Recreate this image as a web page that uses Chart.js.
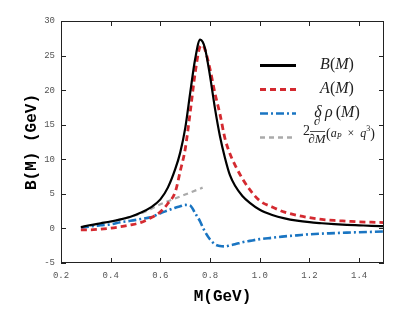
<!DOCTYPE html>
<html>
<head>
<meta charset="utf-8">
<script src="https://cdn.jsdelivr.net/npm/chart.js@4"></script>
<style>
  body { margin: 0; background: #fff; }
  #wrap { width: 412px; height: 309px; }
</style>
</head>
<body>
<div id="wrap"><canvas id="chart" width="412" height="309"></canvas></div>
<script>
// mass grid (GeV) shared by B, A and delta-rho curves
const mass = [0.28, 0.32, 0.36, 0.40, 0.44, 0.48, 0.52, 0.56, 0.60, 0.63, 0.66, 0.68, 0.70, 0.72, 0.74, 0.76, 0.77, 0.78, 0.80, 0.82, 0.84, 0.86, 0.88, 0.90, 0.93, 0.96, 1.00, 1.05, 1.10, 1.15, 1.20, 1.25, 1.30, 1.35, 1.40, 1.45, 1.50];
const bValues = [0.2, 0.5, 0.75, 1.0, 1.3, 1.7, 2.25, 3.0, 4.2, 5.9, 8.6, 11.0, 14.5, 19.6, 24.5, 27.3, 27.0, 26.0, 22.0, 17.3, 13.3, 10.2, 7.7, 6.2, 4.7, 3.7, 2.7, 1.95, 1.45, 1.12, 0.9, 0.75, 0.62, 0.52, 0.45, 0.38, 0.32];
const aValues = [-0.2, -0.2, -0.1, 0.05, 0.25, 0.5, 0.85, 1.5, 2.4, 3.6, 5.3, 8.3, 11.5, 16.8, 22.5, 26.3, 26.5, 25.8, 23.0, 19.5, 16.5, 13.0, 10.8, 9.2, 7.2, 5.6, 4.0, 3.1, 2.35, 1.9, 1.55, 1.3, 1.15, 1.05, 0.95, 0.9, 0.85];
const rhoValues = [0.1, 0.3, 0.45, 0.6, 0.9, 1.1, 1.35, 1.6, 2.2, 2.6, 3.0, 3.2, 3.4, 3.3, 2.2, 1.0, 0.2, -0.5, -1.6, -2.3, -2.55, -2.6, -2.45, -2.3, -2.0, -1.8, -1.55, -1.35, -1.15, -1.0, -0.85, -0.75, -0.68, -0.6, -0.55, -0.5, -0.45];

// derivative term only runs up to the peak
const derivMass = [0.28, 0.32, 0.36, 0.40, 0.45, 0.50, 0.55, 0.60, 0.65, 0.70, 0.77];
const derivValues = [0.05, 0.4, 0.7, 1.0, 1.4, 1.9, 2.6, 3.5, 4.2, 4.9, 5.9];

const seriesNames = ["B(M)", "A(M)", "δρ(M)", "2∂/∂M(aP×q³)"];
const xTicks = [0.2, 0.4, 0.6, 0.8, 1, 1.2, 1.4];
const yTicks = [-5, 0, 5, 10, 15, 20, 25, 30];

function toPoints(xs, ys) {
  return xs.map((v, i) => ({ x: v, y: ys[i] }));
}

const tickFont = { family: "Liberation Mono", size: 9 };
const titleFont = { family: "Liberation Mono", size: 16, weight: "bold" };

// border box plus inward ticks on all four sides
const frame = {
  id: "frame",
  afterDatasetsDraw(chart) {
    const { ctx, chartArea: a, scales } = chart;
    ctx.save();
    ctx.strokeStyle = "#222";
    ctx.lineWidth = 1;
    ctx.beginPath();
    scales.x.ticks.forEach((t) => {
      const px = Math.round(scales.x.getPixelForValue(t.value)) + 0.5;
      ctx.moveTo(px, a.bottom);
      ctx.lineTo(px, a.bottom - 5);
      ctx.moveTo(px, a.top);
      ctx.lineTo(px, a.top + 5);
    });
    scales.y.ticks.forEach((t) => {
      const py = Math.round(scales.y.getPixelForValue(t.value)) + 0.5;
      ctx.moveTo(a.left, py);
      ctx.lineTo(a.left + 5, py);
      ctx.moveTo(a.right, py);
      ctx.lineTo(a.right - 5, py);
    });
    ctx.stroke();
    ctx.strokeRect(Math.round(a.left) + 0.5, Math.round(a.top) + 0.5, Math.round(a.width) - 1, Math.round(a.height) - 1);
    ctx.restore();
  },
};

function drawRuns(ctx, runs, x, y, align) {
  let total = 0;
  runs.forEach((r) => {
    ctx.font = r[1];
    total += ctx.measureText(r[0]).width;
  });
  let cx = align === "center" ? x - total / 2 : x;
  runs.forEach((r) => {
    ctx.font = r[1];
    ctx.fillText(r[0], cx, y + (r[2] || 0));
    cx += ctx.measureText(r[0]).width;
  });
}

// legend inside the plot, math-style labels
const mathLegend = {
  id: "mathLegend",
  afterDraw(chart) {
    const ctx = chart.ctx;
    const it = 'italic 16px "Liberation Serif"';
    const up = '16px "Liberation Serif"';
    const rows = [65, 89, 113, 137];
    const x0 = 260, x1 = 296;
    ctx.save();
    chart.data.datasets.forEach((ds, i) => {
      ctx.strokeStyle = ds.borderColor;
      ctx.lineWidth = ds.legendWidth;
      ctx.setLineDash(ds.borderDash || []);
      ctx.beginPath();
      ctx.moveTo(x0, rows[i] + 0.5);
      ctx.lineTo(x1, rows[i] + 0.5);
      ctx.stroke();
    });
    ctx.setLineDash([]);
    ctx.fillStyle = "#222";
    ctx.textBaseline = "middle";
    drawRuns(ctx, [["B", it], ["(", up], ["M", it], [")", up]], 337, rows[0], "center");
    drawRuns(ctx, [["A", it], ["(", up], ["M", it], [")", up]], 337, rows[1], "center");
    drawRuns(ctx, [["δ", it], ["\u2009", up], ["ρ", it], ["\u2009(", up], ["M", it], [")", up]], 337, rows[2], "center");

    // 2 d/dM (a_P x q^3)
    const fIt = 'italic 13px "Liberation Serif"';
    const sUp = '14px "Liberation Serif"';
    const sIt = 'italic 12px "Liberation Serif"';
    ctx.textAlign = "left";
    ctx.font = sUp;
    ctx.fillText("2", 303, 131);
    ctx.textAlign = "center";
    ctx.font = fIt;
    ctx.fillText("∂", 317, 122);
    ctx.fillText("∂M", 317, 140);
    ctx.lineWidth = 0.8;
    ctx.strokeStyle = "#222";
    ctx.beginPath();
    ctx.moveTo(310, 131.5);
    ctx.lineTo(325, 131.5);
    ctx.stroke();
    ctx.textAlign = "left";
    drawRuns(ctx, [
      ["(", sUp], ["a", sIt], ["P", 'italic 8px "Liberation Serif"', 3],
      ["\u2002×\u2002", '12px "Liberation Serif"'], ["q", sIt],
      ["3", '8px "Liberation Serif"', -5], [")", sUp],
    ], 326, 134, "left");
    ctx.restore();
  },
};

new Chart(document.getElementById("chart"), {
  type: "line",
  data: {
    datasets: [
      {
        label: seriesNames[0],
        data: toPoints(mass, bValues),
        borderColor: "#000000",
        borderWidth: 2.2,
        legendWidth: 3,
      },
      {
        label: seriesNames[1],
        data: toPoints(mass, aValues),
        borderColor: "#d42a30",
        borderWidth: 2.8,
        borderDash: [6, 4],
        legendWidth: 3,
      },
      {
        label: seriesNames[2],
        data: toPoints(mass, rhoValues),
        borderColor: "#1a75c2",
        borderWidth: 2.6,
        borderDash: [8, 3, 2, 3],
        legendWidth: 2.6,
      },
      {
        label: seriesNames[3],
        data: toPoints(derivMass, derivValues),
        borderColor: "#aaaaaa",
        borderWidth: 2.2,
        borderDash: [5, 4],
        legendWidth: 2.6,
      },
    ],
  },
  options: {
    responsive: false,
    animation: false,
    devicePixelRatio: 1,
    elements: {
      point: { radius: 0 },
      line: { cubicInterpolationMode: "monotone", fill: false },
    },
    layout: { padding: { top: 21, right: 28, left: 0, bottom: 0 } },
    plugins: {
      legend: { display: false },
      tooltip: { enabled: false },
    },
    scales: {
      x: {
        type: "linear",
        min: 0.2,
        max: 1.5,
        afterBuildTicks: (s) => { s.ticks = xTicks.map((v) => ({ value: v })); },
        afterFit: (s) => { s.height = 46; },
        grid: { display: false, drawTicks: false },
        border: { display: false },
        ticks: { font: tickFont, color: "#555", padding: 7, maxRotation: 0 },
        title: { display: true, text: "M(GeV)", font: titleFont, color: "#000", padding: { bottom: 2 } },
      },
      y: {
        min: -5,
        max: 30,
        afterBuildTicks: (s) => { s.ticks = yTicks.map((v) => ({ value: v })); },
        afterFit: (s) => { s.width = 61; },
        grid: { display: false, drawTicks: false },
        border: { display: false },
        ticks: { font: tickFont, color: "#555", padding: 6 },
        title: { display: true, text: "B(M) (GeV)", font: titleFont, color: "#000", padding: { top: 22 } },
      },
    },
  },
  plugins: [frame, mathLegend],
});
</script>
</body>
</html>
